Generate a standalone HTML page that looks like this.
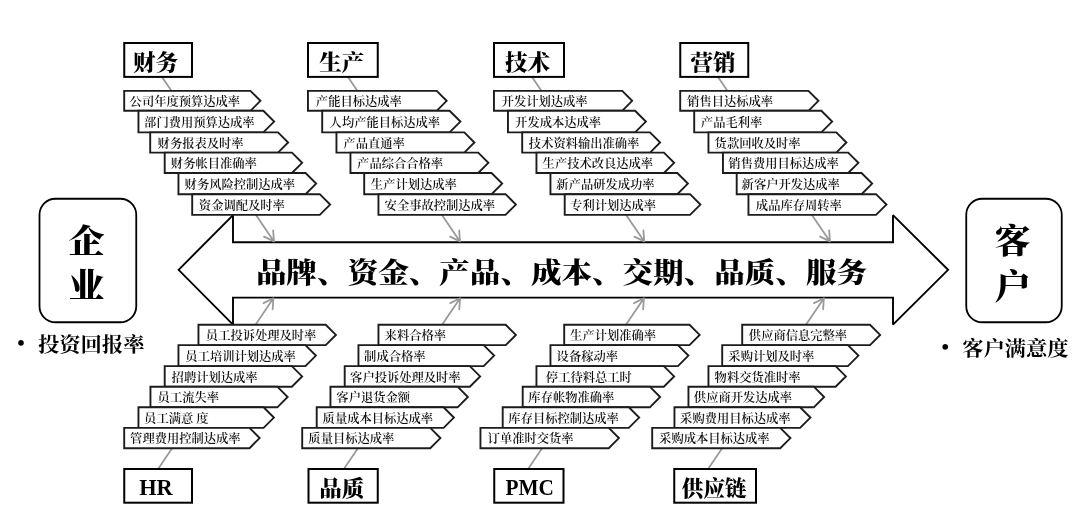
<!DOCTYPE html>
<html lang="zh-CN"><head><meta charset="utf-8"><title>鱼骨图</title>
<style>
html,body{margin:0;padding:0;background:#fff;}
body{width:1090px;height:528px;overflow:hidden;}
svg{display:block;will-change:transform;}
text{font-family:"Liberation Serif","Noto Serif CJK SC",serif;fill:#000;}
.lb{font-size:12.3px;font-weight:600;fill:#111;}
.tt{font-size:22.6px;font-weight:900;}
.tl{font-size:21.3px;font-weight:700;}
.big{font-size:30.55px;font-weight:900;}
.side{font-size:35px;font-weight:900;}
.bul{font-size:21.3px;font-weight:700;}
.pg{fill:#fff;stroke:#1c1c1c;stroke-width:1.9;stroke-linejoin:miter;}
.bx{fill:#fff;stroke:#000;stroke-width:2;}
.ga{fill:none;stroke:#9a9a9a;stroke-width:1.8;stroke-linecap:round;stroke-linejoin:round;}
</style></head><body>
<svg width="1090" height="528" viewBox="0 0 1090 528">
<rect width="1090" height="528" fill="#fff"/>
<polygon points="178.6,269.8 233,215.2 233,242.2 893,242.2 893,215.2 948.1,269.8 893,324.6 893,297.6 233,297.6 233,324.6" fill="#fff" stroke="#000" stroke-width="1.9" stroke-linejoin="miter" stroke-miterlimit="2"/>
<path class="ga" d="M162.00 77.00 L274.00 241.40 M264.09 236.62 L274.00 241.40 L273.18 230.43"/>
<path class="ga" d="M348.00 77.00 L460.00 241.40 M450.09 236.62 L460.00 241.40 L459.18 230.43"/>
<path class="ga" d="M532.00 77.00 L644.25 241.40 M634.34 236.63 L644.25 241.40 L643.42 230.43"/>
<path class="ga" d="M718.00 77.00 L830.00 241.40 M820.09 236.62 L830.00 241.40 L829.18 230.43"/>
<path class="ga" d="M158.75 468.00 L273.40 298.30 M272.62 309.27 L273.40 298.30 L263.51 303.11"/>
<path class="ga" d="M344.50 468.00 L460.10 298.30 M459.28 309.27 L460.10 298.30 L450.19 303.08"/>
<path class="ga" d="M528.75 468.00 L643.90 298.30 M643.10 309.27 L643.90 298.30 L634.00 303.09"/>
<path class="ga" d="M708.75 468.00 L823.90 298.30 M823.10 309.27 L823.90 298.30 L814.00 303.09"/>
<polygon class="pg" points="124.20,90.90 250.45,90.90 260.40,100.85 250.45,110.80 124.20,110.80"/>
<text class="lb" transform="translate(129.60 106.15) scale(1.000 0.980)">公司年度预算达成率</text>
<polygon class="pg" points="138.45,110.80 263.35,110.80 274.15,121.60 263.35,132.40 138.45,132.40"/>
<text class="lb" transform="translate(144.10 126.90) scale(1.000 0.980)">部门费用预算达成率</text>
<polygon class="pg" points="150.20,132.40 278.05,132.40 288.15,142.50 278.05,152.60 150.20,152.60"/>
<text class="lb" transform="translate(157.60 147.80) scale(1.000 0.980)">财务报表及时率</text>
<polygon class="pg" points="164.70,152.60 291.95,152.60 302.15,162.80 291.95,173.00 164.70,173.00"/>
<text class="lb" transform="translate(170.85 168.10) scale(1.000 0.980)">财务帐目准确率</text>
<polygon class="pg" points="178.45,173.00 305.55,173.00 316.15,183.60 305.55,194.20 178.45,194.20"/>
<text class="lb" transform="translate(184.60 188.90) scale(1.000 0.980)">财务风险控制达成率</text>
<polygon class="pg" points="192.20,194.20 319.80,194.20 330.15,204.55 319.80,214.90 192.20,214.90"/>
<text class="lb" transform="translate(198.85 209.85) scale(1.000 0.980)">资金调配及时率</text>
<polygon class="pg" points="307.95,90.90 436.70,90.90 446.65,100.85 436.70,110.80 307.95,110.80"/>
<text class="lb" transform="translate(315.85 106.15) scale(1.000 0.980)">产能目标达成率</text>
<polygon class="pg" points="322.20,110.80 449.60,110.80 460.40,121.60 449.60,132.40 322.20,132.40"/>
<text class="lb" transform="translate(329.60 126.90) scale(1.000 0.980)">人均产能目标达成率</text>
<polygon class="pg" points="336.45,132.40 464.30,132.40 474.40,142.50 464.30,152.60 336.45,152.60"/>
<text class="lb" transform="translate(343.35 147.80) scale(1.000 0.980)">产品直通率</text>
<polygon class="pg" points="350.45,152.60 478.20,152.60 488.40,162.80 478.20,173.00 350.45,173.00"/>
<text class="lb" transform="translate(357.10 168.10) scale(1.000 0.980)">产品综合合格率</text>
<polygon class="pg" points="364.20,173.00 491.55,173.00 502.15,183.60 491.55,194.20 364.20,194.20"/>
<text class="lb" transform="translate(370.85 188.90) scale(1.000 0.980)">生产计划达成率</text>
<polygon class="pg" points="378.45,194.20 505.55,194.20 515.90,204.55 505.55,214.90 378.45,214.90"/>
<text class="lb" transform="translate(384.60 209.85) scale(1.000 0.980)">安全事故控制达成率</text>
<polygon class="pg" points="493.95,90.90 622.20,90.90 632.15,100.85 622.20,110.80 493.95,110.80"/>
<text class="lb" transform="translate(501.60 106.15) scale(1.000 0.980)">开发计划达成率</text>
<polygon class="pg" points="507.95,110.80 635.10,110.80 645.90,121.60 635.10,132.40 507.95,132.40"/>
<text class="lb" transform="translate(515.10 126.90) scale(1.000 0.980)">开发成本达成率</text>
<polygon class="pg" points="522.20,132.40 650.05,132.40 660.15,142.50 650.05,152.60 522.20,152.60"/>
<text class="lb" transform="translate(528.85 147.80) scale(1.000 0.980)">技术资料输出准确率</text>
<polygon class="pg" points="536.45,152.60 663.95,152.60 674.15,162.80 663.95,173.00 536.45,173.00"/>
<text class="lb" transform="translate(542.60 168.10) scale(1.000 0.980)">生产技术改良达成率</text>
<polygon class="pg" points="550.45,173.00 677.30,173.00 687.90,183.60 677.30,194.20 550.45,194.20"/>
<text class="lb" transform="translate(556.35 188.90) scale(1.000 0.980)">新产品研发成功率</text>
<polygon class="pg" points="564.70,194.20 690.05,194.20 700.40,204.55 690.05,214.90 564.70,214.90"/>
<text class="lb" transform="translate(570.10 209.85) scale(1.000 0.980)">专利计划达成率</text>
<polygon class="pg" points="680.20,90.90 808.45,90.90 818.40,100.85 808.45,110.80 680.20,110.80"/>
<text class="lb" transform="translate(687.10 106.15) scale(1.000 0.980)">销售目达标成率</text>
<polygon class="pg" points="694.20,110.80 821.35,110.80 832.15,121.60 821.35,132.40 694.20,132.40"/>
<text class="lb" transform="translate(700.85 126.90) scale(1.000 0.980)">产品毛利率</text>
<polygon class="pg" points="708.45,132.40 836.30,132.40 846.40,142.50 836.30,152.60 708.45,152.60"/>
<text class="lb" transform="translate(714.60 147.80) scale(1.000 0.980)">货款回收及时率</text>
<polygon class="pg" points="722.95,152.60 848.20,152.60 858.40,162.80 848.20,173.00 722.95,173.00"/>
<text class="lb" transform="translate(728.35 168.10) scale(1.000 0.980)">销售费用目标达成率</text>
<polygon class="pg" points="736.70,173.00 861.55,173.00 872.15,183.60 861.55,194.20 736.70,194.20"/>
<text class="lb" transform="translate(741.60 188.90) scale(1.000 0.980)">新客户开发达成率</text>
<polygon class="pg" points="748.45,194.20 876.05,194.20 886.40,204.55 876.05,214.90 748.45,214.90"/>
<text class="lb" transform="translate(755.85 209.85) scale(1.000 0.980)">成品库存周转率</text>
<polygon class="pg" points="198.45,324.80 325.75,324.80 335.90,334.95 325.75,345.10 198.45,345.10"/>
<text class="lb" transform="translate(205.85 340.25) scale(1.000 0.980)">员工投诉处理及时率</text>
<polygon class="pg" points="178.45,345.10 305.40,345.10 315.90,355.60 305.40,366.10 178.45,366.10"/>
<text class="lb" transform="translate(185.35 360.90) scale(1.000 0.980)">员工培训计划达成率</text>
<polygon class="pg" points="164.70,366.10 291.85,366.10 302.15,376.40 291.85,386.70 164.70,386.70"/>
<text class="lb" transform="translate(171.60 381.70) scale(1.000 0.980)">招聘计划达成率</text>
<polygon class="pg" points="150.45,386.70 277.35,386.70 287.65,397.00 277.35,407.30 150.45,407.30"/>
<text class="lb" transform="translate(157.60 402.30) scale(1.000 0.980)">员工流失率</text>
<polygon class="pg" points="138.45,407.30 263.60,407.30 273.90,417.60 263.60,427.90 138.45,427.90"/>
<text class="lb" transform="translate(144.10 422.90) scale(1.000 0.980)">员工满意 度</text>
<polygon class="pg" points="124.20,427.90 249.50,427.90 259.65,438.05 249.50,448.20 124.20,448.20"/>
<text class="lb" transform="translate(130.10 443.35) scale(1.000 0.980)">管理费用控制达成率</text>
<polygon class="pg" points="378.45,324.80 505.75,324.80 515.90,334.95 505.75,345.10 378.45,345.10"/>
<text class="lb" transform="translate(384.60 340.25) scale(1.000 0.980)">来料合格率</text>
<polygon class="pg" points="358.45,345.10 483.65,345.10 494.15,355.60 483.65,366.10 358.45,366.10"/>
<text class="lb" transform="translate(364.10 360.90) scale(1.000 0.980)">制成合格率</text>
<polygon class="pg" points="344.70,366.10 469.85,366.10 480.15,376.40 469.85,386.70 344.70,386.70"/>
<text class="lb" transform="translate(350.10 381.70) scale(1.000 0.980)">客户投诉处理及时率</text>
<polygon class="pg" points="330.45,386.70 457.60,386.70 467.90,397.00 457.60,407.30 330.45,407.30"/>
<text class="lb" transform="translate(336.35 402.30) scale(1.000 0.980)">客户退货金额</text>
<polygon class="pg" points="316.70,407.30 443.60,407.30 453.90,417.60 443.60,427.90 316.70,427.90"/>
<text class="lb" transform="translate(322.60 422.90) scale(1.000 0.980)">质量成本目标达成率</text>
<polygon class="pg" points="302.20,427.90 430.25,427.90 440.40,438.05 430.25,448.20 302.20,448.20"/>
<text class="lb" transform="translate(308.35 443.35) scale(1.000 0.980)">质量目标达成率</text>
<polygon class="pg" points="564.20,324.80 689.50,324.80 699.65,334.95 689.50,345.10 564.20,345.10"/>
<text class="lb" transform="translate(570.10 340.25) scale(1.000 0.980)">生产计划准确率</text>
<polygon class="pg" points="550.45,345.10 677.90,345.10 688.40,355.60 677.90,366.10 550.45,366.10"/>
<text class="lb" transform="translate(556.60 360.90) scale(1.000 0.980)">设备稼动率</text>
<polygon class="pg" points="536.45,366.10 663.85,366.10 674.15,376.40 663.85,386.70 536.45,386.70"/>
<text class="lb" transform="translate(545.85 381.70) scale(1.000 0.980)">停工待料总工时</text>
<polygon class="pg" points="522.70,386.70 649.85,386.70 660.15,397.00 649.85,407.30 522.70,407.30"/>
<text class="lb" transform="translate(528.35 402.30) scale(1.000 0.980)">库存帐物准确率</text>
<polygon class="pg" points="502.70,407.30 628.85,407.30 639.15,417.60 628.85,427.90 502.70,427.90"/>
<text class="lb" transform="translate(508.35 422.90) scale(1.000 0.980)">库存目标控制达成率</text>
<polygon class="pg" points="480.45,427.90 608.75,427.90 618.90,438.05 608.75,448.20 480.45,448.20"/>
<text class="lb" transform="translate(487.60 443.35) scale(1.000 0.980)">订单准时交货率</text>
<polygon class="pg" points="742.20,324.80 870.00,324.80 880.15,334.95 870.00,345.10 742.20,345.10"/>
<text class="lb" transform="translate(748.85 340.25) scale(1.000 0.980)">供应商信息完整率</text>
<polygon class="pg" points="722.20,345.10 847.90,345.10 858.40,355.60 847.90,366.10 722.20,366.10"/>
<text class="lb" transform="translate(728.35 360.90) scale(1.000 0.980)">采购计划及时率</text>
<polygon class="pg" points="708.45,366.10 835.60,366.10 845.90,376.40 835.60,386.70 708.45,386.70"/>
<text class="lb" transform="translate(714.60 381.70) scale(1.000 0.980)">物料交货准时率</text>
<polygon class="pg" points="688.45,386.70 813.85,386.70 824.15,397.00 813.85,407.30 688.45,407.30"/>
<text class="lb" transform="translate(693.85 402.30) scale(1.000 0.980)">供应商开发达成率</text>
<polygon class="pg" points="674.45,407.30 800.10,407.30 810.40,417.60 800.10,427.90 674.45,427.90"/>
<text class="lb" transform="translate(680.10 422.90) scale(1.000 0.980)">采购费用目标达成率</text>
<polygon class="pg" points="652.20,427.90 780.25,427.90 790.40,438.05 780.25,448.20 652.20,448.20"/>
<text class="lb" transform="translate(659.10 443.35) scale(1.000 0.980)">采购成本目标达成率</text>
<rect class="bx" x="124.25" y="43.00" width="67.75" height="33.90"/>
<text class="tt" transform="translate(132.95 69.60) scale(1.000 0.940)">财务</text>
<rect class="bx" x="308.00" y="43.00" width="69.75" height="33.90"/>
<text class="tt" transform="translate(319.20 69.60) scale(1.000 0.940)">生产</text>
<rect class="bx" x="494.00" y="43.00" width="70.00" height="33.90"/>
<text class="tt" transform="translate(504.95 69.60) scale(1.000 0.940)">技术</text>
<rect class="bx" x="680.25" y="43.00" width="68.00" height="33.90"/>
<text class="tt" transform="translate(690.45 69.60) scale(1.000 0.940)">营销</text>
<rect class="bx" x="124.25" y="469.00" width="67.75" height="33.70"/>
<text class="tl" transform="translate(139.20 495.00) scale(1.050 1.070)">HR</text>
<rect class="bx" x="308.50" y="469.00" width="69.25" height="33.70"/>
<text class="tt" transform="translate(319.20 495.60) scale(1.000 0.940)">品质</text>
<rect class="bx" x="494.25" y="469.00" width="69.25" height="33.70"/>
<text class="tl" transform="translate(505.45 495.00) scale(1.000 1.070)">PMC</text>
<rect class="bx" x="674.25" y="469.00" width="81.75" height="33.70"/>
<text class="tt" transform="translate(681.70 495.60) scale(0.960 0.940)">供应链</text>
<text class="big" transform="translate(256.00 283.00) scale(1.000 0.930)">品牌、资金、产品、成本、交期、品质、服务</text>
<rect x="39.5" y="198.75" width="96.75" height="123.5" rx="16" ry="16" fill="#fff" stroke="#000" stroke-width="1.8"/>
<rect x="966.25" y="198.75" width="95.5" height="123.5" rx="16" ry="16" fill="#fff" stroke="#000" stroke-width="1.8"/>
<text class="side" transform="translate(68.50 253.00) scale(1.030 0.950)">企</text>
<text class="side" transform="translate(68.50 297.50) scale(1.030 0.980)">业</text>
<text class="side" transform="translate(994.50 253.20) scale(1.030 0.980)">客</text>
<text class="side" transform="translate(994.50 299.00) scale(1.030 0.980)">户</text>
<text class="bul" transform="translate(17.30 350.30) scale(1.000 1.000)">•</text>
<text class="bul" transform="translate(38.00 352.00) scale(1.000 0.950)">投资回报率</text>
<text class="bul" transform="translate(941.50 354.00) scale(1.000 1.000)">•</text>
<text class="bul" transform="translate(962.20 356.00) scale(1.000 0.950)">客户满意度</text>
</svg></body></html>
